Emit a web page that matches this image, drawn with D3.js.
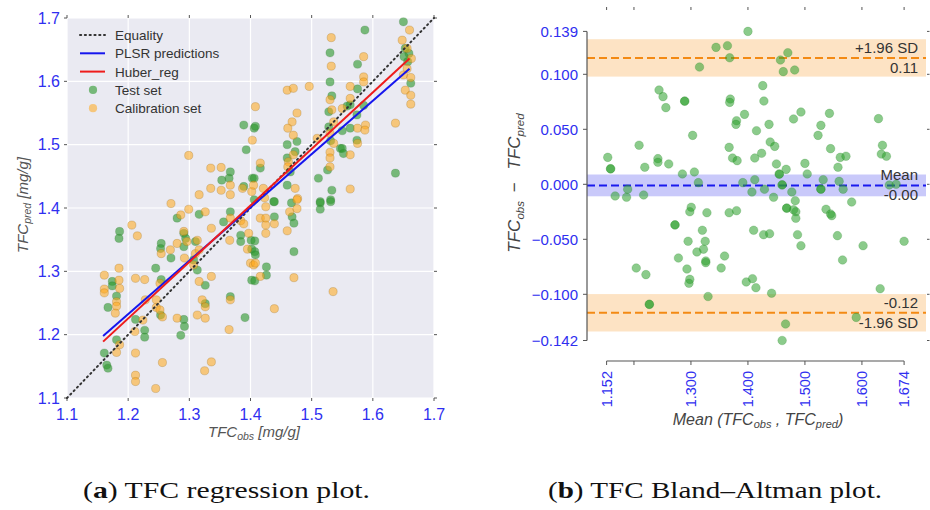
<!DOCTYPE html>
<html>
<head>
<meta charset="utf-8">
<script src="https://cdn.jsdelivr.net/npm/d3@7"></script>
<style>
  body { margin: 0; background: #fff; }
  text { font-family: "Liberation Sans", Arial, sans-serif; }
  text.caption { font-family: "Liberation Serif", "DejaVu Serif", serif; }
</style>
</head>
<body>
<svg id="chart" width="930" height="510"></svg>
<script>
// ---------- (a) regression: observed vs predicted TFC [mg/g] ----------
const testSet = [
  [1.389,1.531],[1.393,1.492],[1.367,1.457],[1.353,1.444],[1.365,1.447],[1.389,1.434],[1.403,1.447],
  [1.587,1.681],[1.530,1.645],[1.530,1.599],[1.533,1.577],[1.575,1.588],[1.575,1.627],[1.563,1.563],
  [1.585,1.562],[1.563,1.526],[1.574,1.507],[1.528,1.552],[1.528,1.528],[1.547,1.494],[1.526,1.460],
  [1.533,1.428],[1.514,1.410],[1.511,1.447],[1.406,1.526],[1.406,1.413],[1.438,1.410],[1.460,1.500],
  [1.460,1.479],[1.465,1.457],[1.473,1.489],[1.460,1.436],[1.476,1.505],[1.637,1.455],[1.650,1.694],
  [1.659,1.644],[1.662,1.597],[1.651,1.639],[1.406,1.447],[1.416,1.463],[1.408,1.529],
  [1.550,1.522],[1.550,1.494],[1.552,1.486],[1.531,1.506],[1.531,1.413],[1.558,1.561],[1.574,1.547],
  [1.653,1.652],[1.657,1.631],
  [1.316,1.390],[1.367,1.394],[1.280,1.384],[1.186,1.363],[1.185,1.352],[1.291,1.360],[1.294,1.352],
  [1.310,1.347],[1.356,1.378],[1.384,1.357],[1.384,1.347],[1.401,1.349],[1.402,1.335],[1.254,1.344],
  [1.253,1.336],[1.291,1.339],[1.270,1.321],[1.307,1.318],[1.313,1.302],[1.326,1.278],[1.326,1.249],
  [1.367,1.260],[1.391,1.227],[1.402,1.286],[1.245,1.305],[1.254,1.287],[1.174,1.284],[1.174,1.277],
  [1.181,1.261],[1.167,1.243],[1.253,1.231],[1.212,1.224],[1.291,1.224],[1.292,1.213],[1.286,1.199],
  [1.227,1.207],[1.227,1.196],[1.181,1.192],[1.161,1.171],[1.165,1.152],[1.167,1.147],
  [1.439,1.410],[1.467,1.408],[1.514,1.408],[1.531,1.410],[1.514,1.398],[1.439,1.386],[1.468,1.386],
  [1.471,1.376],[1.407,1.348],[1.407,1.331],[1.408,1.326],[1.471,1.331],[1.426,1.307],[1.426,1.294],
  [1.407,1.285]
];
const calibrationSet = [
  [1.299,1.483],[1.335,1.463],[1.352,1.464],[1.335,1.431],[1.352,1.428],[1.367,1.436],[1.367,1.421],
  [1.387,1.431],[1.316,1.421],[1.270,1.407],[1.403,1.507],[1.402,1.426],
  [1.532,1.669],[1.585,1.639],[1.532,1.624],[1.585,1.607],[1.585,1.599],[1.660,1.681],[1.648,1.665],
  [1.656,1.652],[1.663,1.636],[1.656,1.620],[1.650,1.610],[1.662,1.606],[1.653,1.586],[1.662,1.578],
  [1.662,1.564],[1.637,1.534],[1.460,1.586],[1.470,1.589],[1.496,1.592],[1.563,1.592],[1.530,1.571],
  [1.533,1.555],[1.563,1.573],[1.536,1.536],[1.530,1.518],[1.536,1.502],[1.575,1.526],[1.588,1.531],
  [1.575,1.502],[1.563,1.484],[1.530,1.488],[1.530,1.479],[1.530,1.465],[1.563,1.430],[1.476,1.550],
  [1.468,1.536],[1.461,1.526],[1.470,1.515],[1.462,1.473],[1.470,1.484],[1.461,1.465],[1.477,1.415],
  [1.473,1.431],[1.416,1.471],[1.421,1.431],[1.408,1.560],[1.405,1.436],[1.423,1.416],[1.509,1.510],
  [1.550,1.557],[1.587,1.523],
  [1.299,1.398],[1.326,1.394],[1.367,1.384],[1.384,1.380],[1.389,1.375],[1.286,1.389],[1.206,1.373],
  [1.215,1.356],[1.291,1.363],[1.296,1.347],[1.313,1.349],[1.336,1.368],[1.366,1.349],[1.397,1.360],
  [1.395,1.335],[1.400,1.313],[1.254,1.328],[1.269,1.334],[1.280,1.344],[1.292,1.321],[1.310,1.328],
  [1.316,1.334],[1.307,1.310],[1.316,1.284],[1.336,1.292],[1.321,1.255],[1.326,1.244],[1.367,1.255],
  [1.365,1.208],[1.212,1.289],[1.227,1.287],[1.252,1.281],[1.185,1.305],[1.161,1.294],[1.161,1.272],
  [1.161,1.266],[1.185,1.286],[1.186,1.273],[1.181,1.252],[1.181,1.245],[1.179,1.234],[1.228,1.255],
  [1.246,1.255],[1.246,1.243],[1.252,1.239],[1.256,1.228],[1.224,1.223],[1.280,1.226],[1.313,1.231],
  [1.326,1.226],[1.211,1.205],[1.186,1.184],[1.181,1.172],[1.212,1.171],[1.256,1.156],[1.336,1.157],
  [1.325,1.143],[1.212,1.136],[1.212,1.126],[1.245,1.115],
  [1.476,1.413],[1.425,1.402],[1.416,1.384],[1.425,1.384],[1.439,1.375],[1.464,1.394],[1.476,1.399],
  [1.460,1.364],[1.425,1.373],[1.425,1.360],[1.405,1.310],[1.408,1.313],[1.416,1.292],[1.471,1.290],
  [1.535,1.268],[1.439,1.241]
];
const equalityLine = [[1.1,1.1],[1.7,1.7]];
const plsrFit  = [[1.159,1.198],[1.660,1.620]];
const huberFit = [[1.159,1.189],[1.660,1.636]];
const regTicks = [1.1,1.2,1.3,1.4,1.5,1.6,1.7];

// ---------- (b) Bland–Altman: mean vs difference ----------
const baPoints = [
  [1.400,0.139],[1.344,0.1245],[1.364,0.126],[1.368,0.115],[1.315,0.1066],[1.457,0.113],[1.470,0.1196],
  [1.462,0.1024],[1.482,0.1039],
  [1.244,0.0857],[1.251,0.0797],[1.256,0.0697],[1.289,0.0757],[1.289,0.0755],[1.369,0.0775],[1.368,0.0745],
  [1.426,0.0897],[1.428,0.0757],[1.380,0.0578],[1.379,0.0545],[1.394,0.0636],[1.415,0.0487],[1.437,0.0545],
  [1.480,0.0594],[1.493,0.0657],[1.528,0.0536],[1.543,0.0645],[1.523,0.0445],[1.629,0.0597],[1.303,0.0445],
  [1.209,0.0355],[1.154,0.0245],[1.159,0.0142],[1.159,0.0140],[1.219,0.0155],[1.242,0.0233],[1.242,0.0200],
  [1.261,0.0185],[1.285,0.0094],[1.306,0.0112],[1.367,0.0336],[1.373,0.0239],[1.381,0.0215],[1.412,0.0239],
  [1.424,0.0282],[1.439,0.0385],[1.447,0.0345],[1.450,0.0185],[1.455,0.0094],[1.455,0.0092],[1.467,0.0136],
  [1.500,0.0190],[1.504,0.0094],[1.545,0.0324],[1.562,0.0245],[1.572,0.0255],[1.558,0.0155],[1.636,0.0355],
  [1.634,0.0275],[1.643,0.0255],[1.532,0.0042],[1.412,0.0042],
  [1.313,0.0015],[1.391,0.0015],[1.460,-0.0006],[1.460,-0.0004],[1.560,0.0027],[1.648,-0.0006],[1.660,0.0000],
  [1.189,-0.0045],[1.167,-0.0106],[1.187,-0.0118],[1.217,-0.0097],[1.407,-0.0070],[1.429,-0.0045],
  [1.445,-0.0118],[1.477,-0.0070],[1.528,-0.0045],[1.528,-0.0043],[1.567,-0.0045],[1.582,-0.0161],
  [1.483,-0.0149],[1.468,-0.0218],[1.468,-0.0216],[1.484,-0.0249],[1.480,-0.0232],[1.484,-0.0309],
  [1.537,-0.0227],[1.545,-0.0270],[1.547,-0.0285],[1.3005,-0.0209],[1.298,-0.0249],[1.328,-0.0258],
  [1.367,-0.0258],[1.380,-0.0240],[1.272,-0.0370],[1.272,-0.0368],[1.320,-0.0418],[1.295,-0.0518],
  [1.325,-0.0518],[1.322,-0.0590],[1.3105,-0.0615],[1.278,-0.0670],[1.326,-0.0697],[1.326,-0.0712],
  [1.359,-0.0652],[1.353,-0.0761],[1.293,-0.0770],[1.298,-0.0864],[1.2965,-0.0900],[1.204,-0.0761],
  [1.221,-0.0821],[1.410,-0.0418],[1.4275,-0.0458],[1.438,-0.0449],[1.487,-0.0458],[1.493,-0.0558],
  [1.557,-0.0467],[1.566,-0.0688],[1.602,-0.0558],[1.674,-0.0518],[1.397,-0.0888],[1.408,-0.0858],
  [1.414,-0.0940],[1.4415,-0.0990],[1.632,-0.0949],[1.227,-0.1090],[1.227,-0.1092],[1.330,-0.1020],
  [1.590,-0.1210],[1.466,-0.1270],[1.460,-0.1420]
];
const meanDiff = -0.001;
const upperLoA = 0.1149;
const lowerLoA = -0.1168;
const meanBandHalf = 0.0099;
const loaBandHalf = 0.017;
const baXTicks = [1.152, 1.2, 1.3, 1.4, 1.5, 1.6, 1.674];
const baXTickLabels = ["1.152", "", "1.300", "1.400", "1.500", "1.600", "1.674"];
const baYTicks = [-0.142, -0.100, -0.050, 0, 0.050, 0.100, 0.139];

const svg = d3.select("#chart");
const tickBlue = "#2f2ff0";
const labelGrey = "#444";

// ============ panel (a) ============
const rx = d3.scaleLinear().domain([1.1, 1.7]).range([67, 434]);
const ry = d3.scaleLinear().domain([1.1, 1.7]).range([398, 18]);
const pa = svg.append("g");

pa.append("rect")
  .attr("x", rx(1.1)).attr("y", ry(1.7))
  .attr("width", rx(1.7) - rx(1.1)).attr("height", ry(1.1) - ry(1.7))
  .attr("fill", "#eaeaf2");

// white grid
pa.append("g").selectAll("line").data(regTicks).join("line")
  .attr("x1", d => rx(d)).attr("x2", d => rx(d))
  .attr("y1", ry(1.1)).attr("y2", ry(1.7))
  .attr("stroke", "#fff").attr("stroke-width", 1.2);
pa.append("g").selectAll("line").data(regTicks).join("line")
  .attr("y1", d => ry(d)).attr("y2", d => ry(d))
  .attr("x1", rx(1.1)).attr("x2", rx(1.7))
  .attr("stroke", "#fff").attr("stroke-width", 1.2);

// small tick marks on all four sides
const tickG = pa.append("g").attr("stroke", "#555").attr("stroke-width", 1);
regTicks.forEach(t => {
  tickG.append("line").attr("x1", rx(t)).attr("x2", rx(t)).attr("y1", ry(1.7)).attr("y2", ry(1.7) - 3);
  tickG.append("line").attr("x1", rx(t)).attr("x2", rx(t)).attr("y1", ry(1.1)).attr("y2", ry(1.1) + 3);
  tickG.append("line").attr("y1", ry(t)).attr("y2", ry(t)).attr("x1", rx(1.1)).attr("x2", rx(1.1) - 3);
  tickG.append("line").attr("y1", ry(t)).attr("y2", ry(t)).attr("x1", rx(1.7)).attr("x2", rx(1.7) + 3);
});

// tick labels
pa.append("g").selectAll("text").data(regTicks).join("text")
  .attr("x", 60).attr("y", d => ry(d) + 5.5)
  .attr("text-anchor", "end").attr("font-size", 16).attr("fill", tickBlue)
  .text(d => d.toFixed(1));
pa.append("g").selectAll("text").data(regTicks).join("text")
  .attr("x", d => rx(d)).attr("y", 420)
  .attr("text-anchor", "middle").attr("font-size", 16).attr("fill", tickBlue)
  .text(d => d.toFixed(1));

// scatter: test set then calibration set
pa.append("g").selectAll("circle").data(testSet).join("circle")
  .attr("cx", d => rx(d[0])).attr("cy", d => ry(d[1])).attr("r", 4.1)
  .attr("fill", "#2e9a2e").attr("fill-opacity", 0.62)
  .attr("stroke", "#2a6a2a").attr("stroke-opacity", 0.35).attr("stroke-width", 0.6);
pa.append("g").selectAll("circle").data(calibrationSet).join("circle")
  .attr("cx", d => rx(d[0])).attr("cy", d => ry(d[1])).attr("r", 4.1)
  .attr("fill", "#ffa71a").attr("fill-opacity", 0.55)
  .attr("stroke", "#9a6a10").attr("stroke-opacity", 0.45).attr("stroke-width", 0.6);

// lines
const lineA = d3.line().x(d => rx(d[0])).y(d => ry(d[1]));
pa.append("path").attr("d", lineA(equalityLine)).attr("fill", "none")
  .attr("stroke", "#333").attr("stroke-width", 2)
  .attr("stroke-dasharray", "1.2 3.6").attr("stroke-linecap", "round");
pa.append("path").attr("d", lineA(plsrFit)).attr("fill", "none")
  .attr("stroke", "#1616ee").attr("stroke-width", 2);
pa.append("path").attr("d", lineA(huberFit)).attr("fill", "none")
  .attr("stroke", "#ee1c1c").attr("stroke-width", 2);

// legend
const legendItems = [
  { label: "Equality", kind: "line", color: "#333", dash: "1.2 3.6" },
  { label: "PLSR predictions", kind: "line", color: "#1616ee" },
  { label: "Huber_reg", kind: "line", color: "#ee1c1c" },
  { label: "Test set", kind: "dot", color: "#2e9a2e", op: 0.62 },
  { label: "Calibration set", kind: "dot", color: "#ffa71a", op: 0.55 }
];
const lg = pa.append("g");
legendItems.forEach((it, i) => {
  const yy = 35 + i * 18.3;
  if (it.kind === "line") {
    lg.append("line").attr("x1", 80).attr("x2", 105).attr("y1", yy).attr("y2", yy)
      .attr("stroke", it.color).attr("stroke-width", 2)
      .attr("stroke-dasharray", it.dash || null).attr("stroke-linecap", it.dash ? "round" : "butt");
  } else {
    lg.append("circle").attr("cx", 93).attr("cy", yy).attr("r", 4.1)
      .attr("fill", it.color).attr("fill-opacity", it.op);
  }
  lg.append("text").attr("x", 115).attr("y", yy + 5).attr("font-size", 13.5)
    .attr("fill", "#333").text(it.label);
});

// axis titles
const xa = pa.append("text").attr("x", 254).attr("y", 437).attr("text-anchor", "middle")
  .attr("font-size", 15).attr("font-style", "italic").attr("fill", "#555");
xa.append("tspan").text("TFC");
xa.append("tspan").attr("dy", 3).attr("font-size", 10.5).text("obs");
xa.append("tspan").attr("dy", -3).text(" [mg/g]");

const ya = pa.append("text").attr("transform", "translate(28,205) rotate(-90)")
  .attr("text-anchor", "middle").attr("font-size", 15).attr("font-style", "italic").attr("fill", "#555");
ya.append("tspan").text("TFC");
ya.append("tspan").attr("dy", 3).attr("font-size", 10.5).text("pred");
ya.append("tspan").attr("dy", -3).text(" [mg/g]");

// ============ panel (b) ============
const bx = d3.scaleLinear().domain([1.152, 1.674]).range([606.6, 904.1]);
const by = d3.scaleLinear().domain([-0.142, 0.139]).range([340.5, 31.4]);
const baLeft = 587, baRight = 926, baTop = 9, baAxisY = 361;
const pb = svg.append("g");

// agreement bands
[
  { c: upperLoA, h: loaBandHalf, fill: "#fde3c4" },
  { c: lowerLoA, h: loaBandHalf, fill: "#fde3c4" },
  { c: meanDiff, h: meanBandHalf, fill: "#c9c9fa" }
].forEach(b => {
  pb.append("rect").attr("x", baLeft).attr("width", baRight - baLeft)
    .attr("y", by(b.c + b.h)).attr("height", by(b.c - b.h) - by(b.c + b.h))
    .attr("fill", b.fill);
});

// reference lines
[
  { v: upperLoA, color: "#f38a14" },
  { v: lowerLoA, color: "#f38a14" },
  { v: meanDiff, color: "#1a1aee" }
].forEach(l => {
  pb.append("line").attr("x1", baLeft).attr("x2", baRight)
    .attr("y1", by(l.v)).attr("y2", by(l.v))
    .attr("stroke", l.color).attr("stroke-width", 2).attr("stroke-dasharray", "8 4");
});

// points
pb.append("g").selectAll("circle").data(baPoints).join("circle")
  .attr("cx", d => bx(d[0])).attr("cy", d => by(d[1])).attr("r", 4.3)
  .attr("fill", "#2ca02c").attr("fill-opacity", 0.55)
  .attr("stroke", "#2a8a2a").attr("stroke-opacity", 0.4).attr("stroke-width", 0.6);

// annotations
const fmt2 = v => v.toFixed(2);
const ann = [
  { t: "+1.96 SD", y: by(upperLoA) - 5 },
  { t: fmt2(upperLoA), y: by(upperLoA) + 15 },
  { t: "Mean", y: by(meanDiff) - 5 },
  { t: fmt2(meanDiff), y: by(meanDiff) + 15 },
  { t: fmt2(lowerLoA), y: by(lowerLoA) - 5 },
  { t: "-1.96 SD", y: by(lowerLoA) + 15 }
];
pb.append("g").selectAll("text").data(ann).join("text")
  .attr("x", 918).attr("y", d => d.y).attr("text-anchor", "end")
  .attr("font-size", 15).attr("fill", "#333").text(d => d.t);

// spines
pb.append("line").attr("x1", baLeft).attr("x2", baLeft)
  .attr("y1", by(0.139)).attr("y2", by(-0.142)).attr("stroke", "#555").attr("stroke-width", 1.2);
pb.append("line").attr("x1", bx(1.152)).attr("x2", bx(1.674))
  .attr("y1", baAxisY).attr("y2", baAxisY).attr("stroke", "#555").attr("stroke-width", 1.2);

const tb = pb.append("g").attr("stroke", "#555").attr("stroke-width", 1);
baYTicks.forEach(t => {
  tb.append("line").attr("x1", baLeft - 4).attr("x2", baLeft).attr("y1", by(t)).attr("y2", by(t));
  tb.append("line").attr("x1", baRight + 1).attr("x2", baRight + 3.5).attr("y1", by(t)).attr("y2", by(t));
});
baXTicks.forEach(t => {
  tb.append("line").attr("x1", bx(t)).attr("x2", bx(t)).attr("y1", baAxisY).attr("y2", baAxisY + 4);
  tb.append("line").attr("x1", bx(t)).attr("x2", bx(t)).attr("y1", baTop - 2).attr("y2", baTop + 1);
});

// tick labels
const fmt3 = d3.format(".3f");
pb.append("g").selectAll("text").data(baYTicks).join("text")
  .attr("x", 578).attr("y", d => by(d) + 5.3).attr("text-anchor", "end")
  .attr("font-size", 15).attr("fill", tickBlue)
  .text(d => fmt3(d).replace("-", "\u2212"));
pb.append("g").selectAll("text").data(baXTicks).join("text")
  .attr("transform", d => `translate(${bx(d) + 5.3},${baAxisY + 10}) rotate(-90)`)
  .attr("text-anchor", "end").attr("font-size", 14.5).attr("fill", tickBlue)
  .text((d, i) => baXTickLabels[i]);

// axis titles
const bxa = pb.append("text").attr("x", 758).attr("y", 425).attr("text-anchor", "middle")
  .attr("font-size", 16).attr("font-style", "italic").attr("fill", labelGrey);
bxa.append("tspan").text("Mean (TFC");
bxa.append("tspan").attr("dy", 3).attr("font-size", 11).text("obs");
bxa.append("tspan").attr("dy", -3).text(" , TFC");
bxa.append("tspan").attr("dy", 3).attr("font-size", 11).text("pred");
bxa.append("tspan").attr("dy", -3).text(")");

const bya = pb.append("text").attr("transform", "translate(520,183) rotate(-90)")
  .attr("text-anchor", "middle").attr("font-size", 17).attr("font-style", "italic").attr("fill", labelGrey);
bya.append("tspan").text("TFC");
bya.append("tspan").attr("dy", 3.5).attr("font-size", 11.5).text("obs");
bya.append("tspan").attr("dy", -3.5).text("\u2002\u2212\u2002 TFC");
bya.append("tspan").attr("dy", 3.5).attr("font-size", 11.5).text("pred");

// ============ captions ============
const captions = [
  { x: 226.5, width: 287, tag: "a", text: " TFC regression plot." },
  { x: 715, width: 334, tag: "b", text: " TFC Bland\u2013Altman plot." }
];
captions.forEach(c => {
  const t = svg.append("text").attr("class", "caption")
    .attr("x", c.x - c.width / 2).attr("y", 498)
    .attr("textLength", c.width).attr("lengthAdjust", "spacingAndGlyphs")
    .attr("font-size", 23.5).attr("fill", "#111");
  t.append("tspan").text("(");
  t.append("tspan").attr("font-weight", "bold").text(c.tag);
  t.append("tspan").text(")" + c.text);
});
</script>
</body>
</html>
